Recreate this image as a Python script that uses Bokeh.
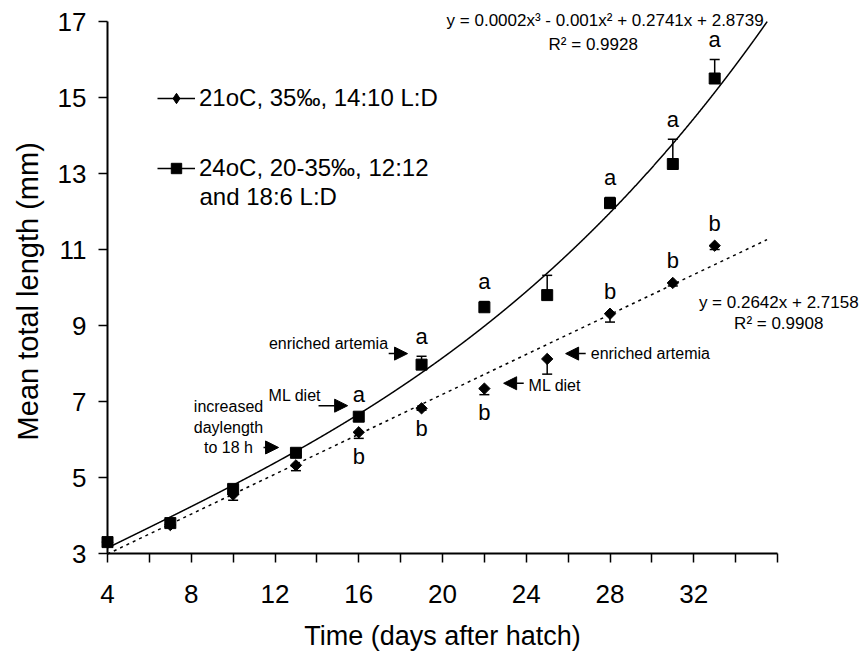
import numpy as np
from bokeh.plotting import figure
from bokeh.models import (Range1d, FixedTicker, Label, Arrow, NormalHead,
                          Legend, LegendItem)
from bokeh.embed import file_html
from bokeh.resources import INLINE
from bokeh.core.properties import value

# ---------------- data ----------------
days = [4, 7, 10, 13, 16, 19, 22, 25, 28, 31, 33]
# 24oC, 20-35 ppt, 12:12 and 18:6 L:D  (squares, error bars upward)
len_24 = [3.3, 3.8, 4.7, 5.65, 6.6, 7.97, 9.48, 9.8, 12.22, 13.25, 15.5]
err_24 = [0.0, 0.0, 0.05, 0.05, 0.05, 0.22, 0.15, 0.52, 0.15, 0.65, 0.5]
# 21oC, 35 ppt, 14:10 L:D  (diamonds, error bars downward)
len_21 = [3.3, 3.75, 4.55, 5.32, 6.19, 6.82, 7.34, 8.12, 9.31, 10.12, 11.1]
err_21 = [0.0, 0.05, 0.15, 0.14, 0.16, 0.05, 0.16, 0.4, 0.22, 0.08, 0.1]

sig_days_24 = [16, 19, 22, 28, 31, 33]
sig_24 = ["a", "a", "a", "a", "a", "a"]
sig_days_21 = [16, 19, 22, 28, 31, 33]
sig_21 = ["b", "b", "b", "b", "b", "b"]
sig_21_below = [True, True, True, False, False, False]

x_ticks = list(range(4, 37, 2))
x_tick_labels = [4, 8, 12, 16, 20, 24, 28, 32]
y_ticks = [3, 5, 7, 9, 11, 13, 15, 17]

x_title = "Time (days after hatch)"
y_title = "Mean total length (mm)"
legend_21 = "21oC, 35\u2030, 14:10 L:D"
legend_24 = "24oC, 20-35\u2030, 12:12"
legend_24b = "and 18:6 L:D"
eq_24 = "y = 0.0002x\u00b3 - 0.001x\u00b2 + 0.2741x + 2.8739"
r2_24 = "R\u00b2 = 0.9928"
eq_21 = "y = 0.2642x + 2.7158"
r2_21 = "R\u00b2 = 0.9908"

FONT = "Liberation Sans"

# ---------------- layout constants ----------------
W, H = 867, 655
AX_LEFT_PX = 107      # pixel of x = 4 (y axis)
AX_BOTTOM_PX = 553    # pixel of y = 3 (x axis)
PXX = 670 / 32.0      # px per day
PXY = 532 / 14.0      # px per mm
x0 = 4 - AX_LEFT_PX / PXX
x1 = 4 + (W - AX_LEFT_PX) / PXX
y0 = 3 - (H - AX_BOTTOM_PX) / PXY
y1 = 3 + AX_BOTTOM_PX / PXY

p = figure(width=W, height=H, output_backend="svg", toolbar_location=None,
           x_range=Range1d(x0, x1), y_range=Range1d(y0, y1))
p.min_border_left = 0
p.min_border_right = 0
p.min_border_top = 0
p.min_border_bottom = 0
p.outline_line_color = None
p.grid.visible = False
p.background_fill_color = "white"
p.border_fill_color = "white"

# axes (pinned at x = 4 and y = 3)
p.xaxis.ticker = FixedTicker(ticks=x_ticks, minor_ticks=[])
p.xaxis.major_label_overrides = {t: (str(t) if t in x_tick_labels else "") for t in x_ticks}
p.xaxis.bounds = (4, 36)
p.xaxis.fixed_location = 3
p.yaxis.ticker = FixedTicker(ticks=y_ticks, minor_ticks=[])
p.yaxis.bounds = (3, 17)
p.yaxis.fixed_location = 4
for ax in (p.xaxis, p.yaxis):
    ax.axis_line_width = 2
    ax.axis_line_color = "black"
    ax.major_tick_line_color = "black"
    ax.major_tick_line_width = 1.5
    ax.major_tick_out = 9
    ax.major_tick_in = 0
    ax.minor_tick_line_color = None
    ax.major_label_text_font = FONT
    ax.major_label_text_font_size = "26px"
    ax.major_label_text_color = "black"
p.xaxis.major_label_standoff = 22
p.yaxis.major_label_standoff = 12

# axis titles (axes are pinned inside the frame, so the titles are labels)
p.add_layout(Label(x=4 - (AX_LEFT_PX - 27) / PXX, y=9.9, text=y_title, angle=np.pi / 2,
                   text_align="center", text_baseline="middle", text_font=FONT,
                   text_font_size="29px", text_color="black"))
p.add_layout(Label(x=20, y=3 - (635 - AX_BOTTOM_PX) / PXY, text=x_title,
                   text_align="center", text_baseline="middle", text_font=FONT,
                   text_font_size="27px", text_color="black"))

# ---------------- trend lines (fitted from the data) ----------------
d = np.array(days, dtype=float)
c3 = np.polyfit(d, np.array(len_24), 3)
xc = np.linspace(4, 36, 3000)
yc = np.polyval(c3, xc)
keep = (yc <= 17) & (yc >= 3)
p.line(xc[keep], yc[keep], line_color="black", line_width=1.5)
c1 = np.polyfit(d, np.array(len_21), 1)
xl = np.array([4, 35.5])
p.line(xl, np.polyval(c1, xl), line_color="black", line_width=1.5, line_dash="3 4")

# ---------------- error bars ----------------
def err_bars(vals, errs, sign):
    xs, ya, yb = [], [], []
    for x, v, e in zip(days, vals, errs):
        if e > 0:
            xs.append(x)
            ya.append(v)
            yb.append(v + sign * e)
    seg = p.segment(x0=xs, y0=ya, x1=xs, y1=yb, line_color="black", line_width=1.5)
    p.scatter(x=xs, y=yb, marker="dash", size=10, line_color="black", line_width=1.5)
    return seg

seg24 = err_bars(len_24, err_24, +1)
seg21 = err_bars(len_21, err_21, -1)

# ---------------- markers ----------------
dm = p.scatter(days, len_21, marker="square", angle=np.pi / 4, size=8,
               fill_color="black", line_color="black")
sq = p.scatter(days, len_24, marker="square", size=11, fill_color="black", line_color="black")
# legend key for the diamond series (no visible point: NaN position)
dm_key = p.scatter([np.nan], [np.nan], marker="diamond", size=15,
                   fill_color="black", line_color="black")

# ---------------- significance letters ----------------
top_24 = [len_24[days.index(x)] + err_24[days.index(x)] for x in sig_days_24]
p.text(x=sig_days_24, y=top_24, text=sig_24, text_align="center", text_baseline="middle",
       y_offset=-20, text_font=value(FONT), text_font_size="22px", text_color="black")
b_below_x = [x for x, b in zip(sig_days_21, sig_21_below) if b]
b_below_y = [len_21[days.index(x)] - err_21[days.index(x)] for x in b_below_x]
b_above_x = [x for x, b in zip(sig_days_21, sig_21_below) if not b]
b_above_y = [len_21[days.index(x)] for x in b_above_x]
p.text(x=b_below_x, y=b_below_y, text=["b"] * len(b_below_x), text_align="center",
       text_baseline="middle", y_offset=18, text_font=value(FONT), text_font_size="22px",
       text_color="black")
p.text(x=b_above_x, y=b_above_y, text=["b"] * len(b_above_x), text_align="center",
       text_baseline="middle", y_offset=-22, text_font=value(FONT), text_font_size="22px",
       text_color="black")

# ---------------- legend ----------------
FB = H - AX_BOTTOM_PX   # frame bottom lies this far below the x axis

def make_legend(label, rends, loc):
    lg = Legend(items=[LegendItem(label=label, renderers=rends)], location=loc,
                padding=0, margin=0, spacing=0, glyph_width=38, glyph_height=26,
                label_height=20, label_standoff=4, label_text_font=FONT,
                label_text_font_size="24px", label_text_color="black",
                background_fill_alpha=0, border_line_alpha=0)
    p.add_layout(lg, "center")

LX = 157
make_legend(legend_21, [seg21, dm_key], (LX, 441 + FB))
make_legend(legend_24, [seg24, sq], (LX, 371 + FB))
p.add_layout(Label(x=LX + 42, y=357 + FB, x_units="screen", y_units="screen", text=legend_24b,
                   text_font=FONT, text_font_size="24px", text_baseline="middle",
                   text_color="black"))

# ---------------- equations ----------------
def lab(x, y, text, size, align="left", base="middle"):
    p.add_layout(Label(x=x, y=y, text=text, text_font=FONT, text_font_size=size,
                       text_align=align, text_baseline=base, text_color="black"))

lab(35.34, 17.03, eq_24, "17px", "right")
lab(27.2, 16.39, r2_24, "17px", "center")
lab(36.06, 9.61, eq_21, "17px", "center")
lab(36.06, 9.04, r2_21, "17px", "center")

# ---------------- annotations with arrows ----------------
def arrow(xa, ya, xb, yb):
    p.add_layout(Arrow(end=NormalHead(size=13, fill_color="black", line_color="black"),
                       x_start=xa, y_start=ya, x_end=xb, y_end=yb,
                       line_color="black", line_width=1.5))

lab(9.78, 6.32, "increased\ndaylength\nto 18 h", "16px", "center")
arrow(11.45, 5.79, 12.17, 5.79)
lab(14.2, 7.16, "ML diet", "16px", "right")
arrow(14.08, 6.89, 15.47, 6.89)
lab(17.4, 8.53, "enriched artemia", "16px", "right")
arrow(17.43, 8.26, 18.33, 8.26)
arrow(23.88, 7.48, 22.92, 7.48)
lab(24.11, 7.42, "ML diet", "16px", "left")
arrow(26.84, 8.26, 25.88, 8.26)
lab(27.08, 8.26, "enriched artemia", "16px", "left")

open("out.html", "w").write(file_html(p, INLINE))
